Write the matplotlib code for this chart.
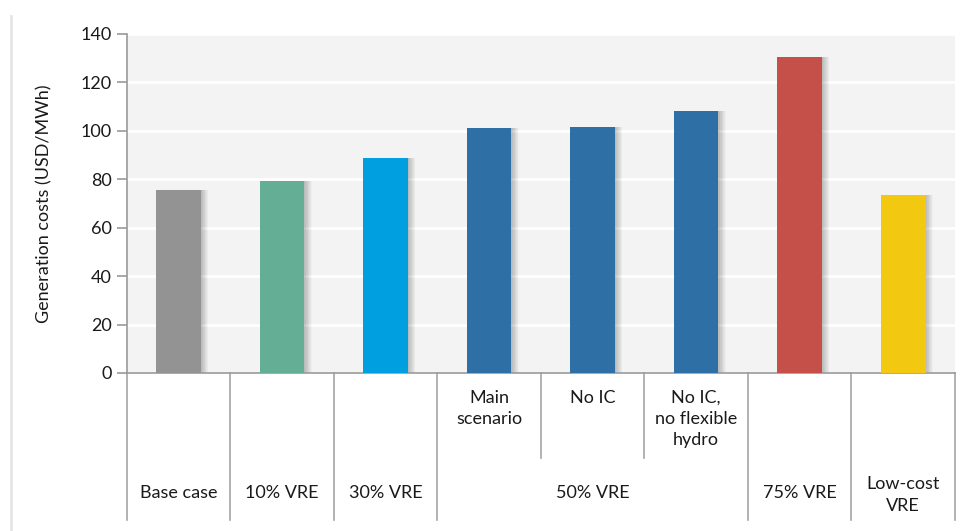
import matplotlib.pyplot as plt
import matplotlib.transforms as mtransforms
import matplotlib.lines as mlines
import numpy as np

plt.rcParams['font.family'] = ['Lato', 'DejaVu Sans']

# data
scenarios = ['Base case', '10% VRE', '30% VRE', 'Main scenario', 'No IC',
             'No IC, no flexible hydro', '75% VRE', 'Low-cost VRE']
costs = [75.6, 79.3, 88.8, 101.2, 101.6, 108.2, 130.5, 73.5]
colors = ['#939393', '#63ae95', '#00a0e0', '#2e6fa6', '#2e6fa6', '#2e6fa6',
          '#c5504a', '#f2c811']

# two-level axis labels
sub_labels = ['', '', '', 'Main\nscenario', 'No IC', 'No IC,\nno flexible\nhydro', '', '']
groups = ['Base case', '10% VRE', '30% VRE', '50% VRE', '75% VRE', 'Low-cost\nVRE']
group_spans = [(0, 0), (1, 1), (2, 2), (3, 5), (6, 6), (7, 7)]

fig = plt.figure(figsize=(9.76, 5.31), dpi=100)
ax = fig.add_axes([0.130, 0.2976, 0.8485, 0.6384])
ax.set_facecolor('#f3f3f3')

# faint page edge on the left
fig.add_artist(mlines.Line2D([0.011, 0.011], [0.0, 0.97], color='#e6e6e6',
                             linewidth=2, transform=fig.transFigure))

x = np.arange(len(costs))
w = 0.43

# soft shadow to the right of each bar
for k in range(1, 13):
    ax.bar(x + 0.006 * k, costs, width=w, color='black', alpha=0.018,
           zorder=1, linewidth=0)
ax.bar(x, costs, width=w, color=colors, zorder=3, linewidth=0)

ax.set_xlim(-0.5, len(costs) - 0.5)
ax.set_ylim(0, 140)
ax.set_yticks(np.arange(0, 141, 20))
ax.yaxis.grid(True, color='white', linewidth=2)
ax.set_axisbelow(True)
ax.set_xticks([])
for s in ['top', 'right']:
    ax.spines[s].set_visible(False)
for s in ['left', 'bottom']:
    ax.spines[s].set_color('#9a9a9a')
    ax.spines[s].set_linewidth(1.2)
ax.tick_params(axis='y', colors='#9a9a9a', length=7, width=1.2, labelsize=13,
               labelcolor='#1a1a1a', pad=4)
ax.set_ylabel('Generation costs (USD/MWh)', fontsize=13, color='#1a1a1a', labelpad=20)

trans = mtransforms.blended_transform_factory(ax.transData, ax.transAxes)
line_kw = dict(color='#a6a6a6', linewidth=1.2, clip_on=False, transform=trans)

# divider lines below the axis
inner = {3.5, 4.5}
for b in np.arange(-0.5, len(costs)):
    bottom = -0.251 if b in inner else -0.434
    ax.plot([b, b], [0, bottom], **line_kw)

for i, lab in enumerate(sub_labels):
    if lab:
        ax.text(i, -0.05, lab, transform=trans, ha='center', va='top',
                fontsize=13, color='#1a1a1a', linespacing=1.4)

for (a, b), lab in zip(group_spans, groups):
    yy = -0.305 if '\n' in lab else -0.33
    ax.text((a + b) / 2, yy, lab, transform=trans, ha='center', va='top',
            fontsize=13, color='#1a1a1a', linespacing=1.4)

fig.savefig('out.png', dpi=100)
